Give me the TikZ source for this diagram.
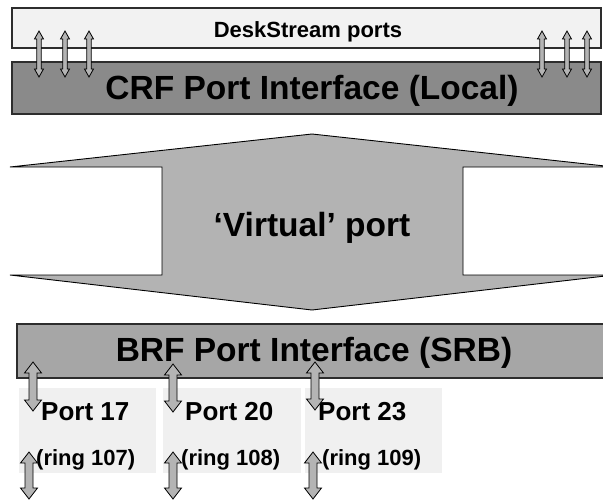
\documentclass[tikz,border=0pt]{standalone}
\usepackage{fontspec}
\setmainfont{Liberation Sans}
\definecolor{Lite}{RGB}{242,242,242}
\definecolor{Crf}{RGB}{138,138,138}
\definecolor{Virt}{RGB}{179,179,179}
\definecolor{Brf}{RGB}{166,166,166}
\definecolor{Cell}{RGB}{240,240,240}
\definecolor{Edge}{RGB}{45,45,45}
\definecolor{Shaft}{RGB}{180,180,180}
\newcommand{\portarrow}[6]{\draw[fill=Shaft, line width=0.8pt] (#1,#2) -- ({#1+#5},{#2+#6}) -- ({#1+#4},{#2+#6}) -- ({#1+#4},{#3-#6}) -- ({#1+#5},{#3-#6}) -- (#1,#3) -- ({#1-#5},{#3-#6}) -- ({#1-#4},{#3-#6}) -- ({#1-#4},{#2+#6}) -- ({#1-#5},{#2+#6}) -- cycle;}
\newcommand{\thinarrow}[1]{\portarrow{#1}{31}{77}{2.2}{4.5}{8}}
\newcommand{\fatarrow}[3]{\portarrow{#1}{#2}{#3}{4}{8.5}{11}}
\tikzset{
  bar/.style={draw=Edge, line width=1.3pt},
  huge/.style={font=\bfseries\fontsize{33.5}{34}\selectfont, inner sep=0pt, anchor=base},
  mid/.style={font=\bfseries\fontsize{22}{22}\selectfont, inner sep=0pt},
  port/.style={font=\bfseries\fontsize{26}{26}\selectfont, inner sep=0pt, anchor=base west},
  ring/.style={font=\bfseries\fontsize{22}{22}\selectfont, inner sep=0pt, anchor=base west}
}

\begin{document}
\begin{tikzpicture}[x=1pt, y=-1pt]
      \clip (0,0) rectangle (603,499);
      \fill[white] (0,0) rectangle (603,499);
      \draw[bar, fill=Lite] (12,8) rectangle (601,48);
      \draw[bar, fill=Crf] (12,62) rectangle (601,114);
      \node[mid, anchor=base] (desk) at (308,37) {DeskStream ports};
      \node[huge] (crf) at (312,99) {CRF Port Interface (Local)};
      \thinarrow{39} \thinarrow{65} \thinarrow{89}
      \thinarrow{542} \thinarrow{567} \thinarrow{587}
      \draw[fill=Virt, line width=0.9pt] (10,167) -- (312,134) -- (614,167) -- (463,167) -- (463,275) -- (614,275)
            -- (312,310) -- (10,275) -- (162,275) -- (162,167) -- cycle;
      \node[huge] (virt) at (312,236) {`Virtual' port};
      \draw[bar, fill=Brf] (17,324) rectangle (610,378);
      \node[huge] (brf) at (314,361) {BRF Port Interface (SRB)};
      \fill[Cell] (19,388) rectangle (156,473);
      \fill[Cell] (163,388) rectangle (301,473);
      \fill[Cell] (305,388) rectangle (442,473);
      \node[port] (p17) at (41,420) {Port 17};
      \node[port] (p20) at (185,420) {Port 20};
      \node[port] (p23) at (318,420) {Port 23};
      \node[ring] (r107) at (36,465) {(ring 107)};
      \node[ring] (r108) at (181,465) {(ring 108)};
      \node[ring] (r109) at (322,465) {(ring 109)};
      \fatarrow{33}{362}{411} \fatarrow{173}{364}{412} \fatarrow{315}{362}{410}
      \fatarrow{29}{452}{499} \fatarrow{173}{452}{499} \fatarrow{313}{452}{499}
    \end{tikzpicture}
\end{document}
